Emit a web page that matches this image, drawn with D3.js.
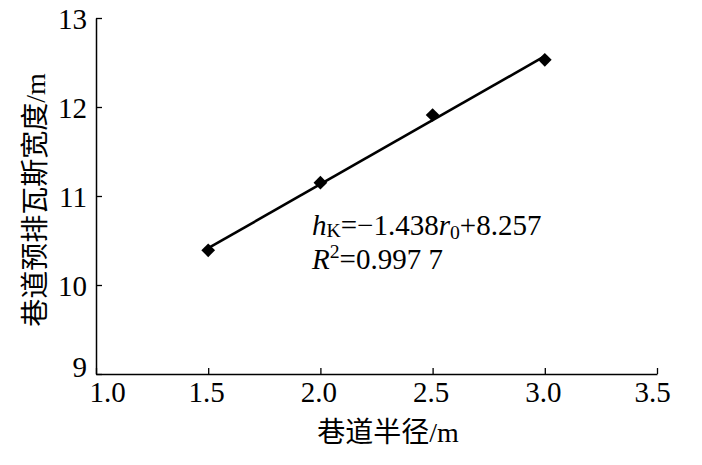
<!DOCTYPE html>
<html><head><meta charset="utf-8">
<script src="https://cdn.jsdelivr.net/npm/d3@7"></script>
<style>
html,body{margin:0;padding:0;background:#fff;}
svg text{font-family:'Liberation Serif','DejaVu Serif','Times New Roman',serif !important;fill:#000;}
svg text.cjk{font-family:'Liberation Serif','Noto Sans CJK SC',serif !important;}
</style></head>
<body>
<svg id="chart" width="702" height="465"></svg>
<script>
// Data
const radius = [1.5, 2.0, 2.5, 3.0];
const gasWidth = [10.39, 11.15, 11.91, 12.53];
const xTicks = [1.0, 1.5, 2.0, 2.5, 3.0, 3.5];
const yTicks = [9, 10, 11, 12, 13];
const fitSlope = 1.438;
const fitIntercept = 8.257;
const xTitle = "巷道半径/m";
const yTitle = "巷道预排瓦斯宽度/m";

(function(){
const svg = d3.select("#chart");
const mLeft = 96, mRight = 657, mTop = 18, mBottom = 374;
const x = d3.scaleLinear().domain([1.0, 3.5]).range([mLeft, mRight]);
const y = d3.scaleLinear().domain([9, 13]).range([mBottom, mTop]);

const fs = 29;
const xAxis = svg.append("g").attr("transform", `translate(0,${mBottom})`)
  .call(d3.axisBottom(x).tickValues(xTicks).tickSizeInner(-6).tickSizeOuter(0).tickPadding(12).tickFormat(d3.format(".1f")));
const yAxis = svg.append("g").attr("transform", `translate(${mLeft},0)`)
  .call(d3.axisLeft(y).tickValues(yTicks).tickSizeInner(-6).tickSizeOuter(0).tickPadding(9).tickFormat(d3.format("d")));
[xAxis, yAxis].forEach(g => {
  g.attr("font-family", null);
  g.select(".domain").attr("stroke", "#000").attr("stroke-width", 1.5);
  g.selectAll(".tick line").attr("stroke", "#000").attr("stroke-width", 1.3);
  g.selectAll(".tick text").attr("font-size", fs).attr("fill", "#000");
});
xAxis.selectAll(".tick text").attr("dx", d => d === 1.0 ? 11 : (d === 3.5 ? -5 : -2)).attr("dy", "0.55em");
yAxis.selectAll(".tick text").attr("dy", d => d === 9 ? "0.1em" : "0.35em");

const line = d3.line().x(d => x(d)).y(d => y(fitSlope * d + fitIntercept));
svg.append("path").datum([d3.min(radius), d3.max(radius)])
  .attr("d", line).attr("fill", "none").attr("stroke", "#000").attr("stroke-width", 2.6);

svg.selectAll(".pt").data(radius).enter().append("path")
  .attr("class", "pt")
  .attr("transform", (d, i) => `translate(${x(d)},${y(gasWidth[i])})`)
  .attr("d", d3.symbol().type(d3.symbolDiamond2).size(120))
  .attr("fill", "#000");

const eq = svg.append("text").attr("x", 312).attr("y", 235).attr("font-size", fs);
eq.append("tspan").attr("font-style", "italic").text("h");
eq.append("tspan").attr("font-size", fs * 0.68).attr("dy", 2).text("K");
eq.append("tspan").attr("dy", -2).text("=−1.438");
eq.append("tspan").attr("font-style", "italic").text("r");
eq.append("tspan").attr("font-size", fs * 0.68).attr("dy", 4).text("0");
eq.append("tspan").attr("dy", -4).text("+8.257");
const r2 = svg.append("text").attr("x", 312).attr("y", 269).attr("font-size", fs);
r2.append("tspan").attr("font-style", "italic").text("R");
r2.append("tspan").attr("font-size", fs * 0.68).attr("dy", -11).text("2");
r2.append("tspan").attr("dy", 11).text("=0.997 7");

svg.append("text").attr("class", "cjk").attr("x", 388).attr("y", 442).attr("text-anchor", "middle")
  .attr("font-size", 28).text(xTitle);
svg.append("text").attr("class", "cjk").attr("transform", "translate(45,200) rotate(-90)").attr("text-anchor", "middle")
  .attr("font-size", 28).text(yTitle);
})();
</script>
</body></html>
